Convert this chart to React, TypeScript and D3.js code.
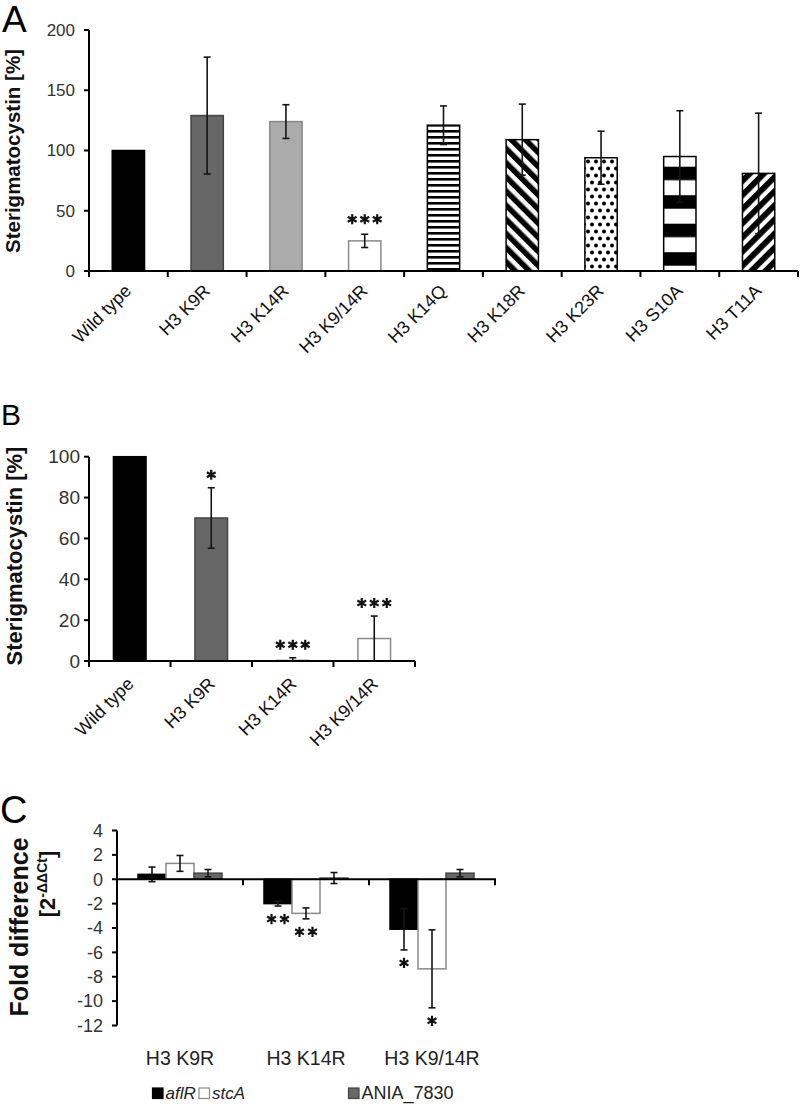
import React from "react";
import * as d3 from "d3";

// ---------- Data ----------
const catsA = ["Wild type", "H3 K9R", "H3 K14R", "H3 K9/14R", "H3 K14Q", "H3 K18R", "H3 K23R", "H3 S10A", "H3 T11A"];
const valsA = [100, 129, 124, 25, 121, 109, 94, 95, 81];
const errA = [0, 48.5, 14, 5.5, 16, 29.5, 22, 38, 50];
const sigA = ["", "", "", "***", "", "", "", "", ""];
const ticksA = [0, 50, 100, 150, 200];

const catsB = ["Wild type", "H3 K9R", "H3 K14R", "H3 K9/14R"];
const valsB = [100, 70, 0.3, 11];
const errB = [0, 14.8, 1.3, 11];
const sigB = ["", "*", "***", "***"];
const ticksB = [0, 20, 40, 60, 80, 100];

const catsC = ["H3 K9R", "H3 K14R", "H3 K9/14R"];
const genes = ["aflR", "stcA", "ANIA_7830"];
const aflR = [0.4, -2.0, -4.1];
const aflRErr = [0.6, 0.2, 1.7];
const aflRSig = ["", "**", "*"];
const stcA = [1.3, -2.8, -7.35];
const stcAErr = [0.65, 0.45, 3.2];
const stcASig = ["", "**", "*"];
const ania = [0.5, 0.1, 0.5];
const aniaErr = [0.3, 0.45, 0.3];
const aniaSig = ["", "", ""];
const ticksC = [4, 2, 0, -2, -4, -6, -8, -10, -12];

// ---------- Styles ----------
const FONT = "'Liberation Sans', Arial, Helvetica, sans-serif";
const fillA = ["#000", "#676767", "#ababab", "#fff", "url(#hstripe)", "url(#diagBack)", "url(#dots)", "url(#bands)", "url(#diagFwd)"];
const strokeA = ["#000", "#444", "#888", "#8a8a8a", "#000", "#000", "#000", "#000", "#000"];
const fillB = ["#000", "#676767", "#ababab", "#fff"];
const strokeB = ["#000", "#444", "#888", "#8a8a8a"];
const fillC = ["#000", "#fff", "#676767"];
const strokeC = ["#000", "#8a8a8a", "#444"];
const italicC = [true, true, false];
const legendX = [152.5, 199, 348.5];

const starPath = d3.symbol().type(d3.symbolAsterisk).size(72)() as string;

function Stars({ cx, cy, text, spacing = 12.5 }: { cx: number; cy: number; text: string; spacing?: number }) {
  const n = text.length;
  if (!n) return null;
  return (
    <g>
      {d3.range(n).map((i) => (
        <path
          key={i}
          d={starPath}
          transform={`translate(${cx + (i - (n - 1) / 2) * spacing},${cy})`}
          stroke="#111"
          strokeWidth={2.2}
          fill="none"
        />
      ))}
    </g>
  );
}

function ErrBar({ x, y1, y2, cap = 7 }: { x: number; y1: number; y2: number; cap?: number }) {
  return (
    <g stroke="#151515" strokeWidth={1.6}>
      <line x1={x} x2={x} y1={y1} y2={y2} />
      <line x1={x - cap / 2} x2={x + cap / 2} y1={y1} y2={y1} />
      <line x1={x - cap / 2} x2={x + cap / 2} y1={y2} y2={y2} />
    </g>
  );
}

export default function App() {
  // Panel A scales
  const xA = d3.scaleBand<string>().domain(catsA).range([89, 798]);
  const yA = d3.scaleLinear().domain([0, 200]).range([271, 30]);
  const bwA = xA.bandwidth() * 0.41;

  // Panel B scales
  const xB = d3.scaleBand<string>().domain(catsB).range([89, 415]);
  const yB = d3.scaleLinear().domain([0, 100]).range([661, 456.7]);
  const bwB = xB.bandwidth() * 0.4;

  // Panel C scales
  const xC = d3.scaleBand<string>().domain(catsC).range([117, 495]);
  const xG = d3.scaleBand<string>().domain(genes).range([0, xC.bandwidth()]).paddingInner(0).paddingOuter(0.75);
  const yC = d3.scaleLinear().domain([-12, 4]).range([1025.5, 830.5]);
  const valsC = [aflR, stcA, ania];
  const errsC = [aflRErr, stcAErr, aniaErr];
  const sigsC = [aflRSig, stcASig, aniaSig];

  const boundsA = [...catsA.map((c) => xA(c)!), xA.range()[1]];
  const boundsB = [...catsB.map((c) => xB(c)!), xB.range()[1]];
  const boundsC = [...catsC.map((c) => xC(c)!), xC.range()[1]];

  return (
    <svg width={800} height={1106} style={{ position: "absolute", left: 0, top: 0, background: "#fff" }} fontFamily={FONT}>
      <defs>
        <pattern id="hstripe" patternUnits="userSpaceOnUse" width={10} height={6} y={1}>
          <rect width={10} height={6} fill="#fff" />
          <rect y={3} width={10} height={2.6} fill="#000" />
        </pattern>
        <pattern id="diagBack" patternUnits="userSpaceOnUse" width={10} height={10} patternTransform="rotate(-45)">
          <rect width={10} height={10} fill="#fff" />
          <rect width={5.5} height={10} fill="#000" />
        </pattern>
        <pattern id="diagFwd" patternUnits="userSpaceOnUse" width={10} height={10} patternTransform="rotate(45)">
          <rect width={10} height={10} fill="#fff" />
          <rect width={5.8} height={10} fill="#000" />
        </pattern>
        <pattern id="dots" patternUnits="userSpaceOnUse" width={8} height={14} x={2} y={158}>
          <rect width={8} height={14} fill="#fff" />
          <circle cx={2} cy={3.5} r={2} fill="#000" />
          <circle cx={6} cy={10.5} r={2} fill="#000" />
        </pattern>
        <pattern id="bands" patternUnits="userSpaceOnUse" width={10} height={28.5} y={166.7}>
          <rect width={10} height={28.5} fill="#fff" />
          <rect width={10} height={13.5} fill="#000" />
        </pattern>
      </defs>

      {/* ================= Panel A ================= */}
      <text x={2} y={32} fontSize={37} fill="#000">A</text>
      <text transform={`translate(20,151) rotate(-90)`} textAnchor="middle" fontSize={20.5} fontWeight="bold" fill="#111">
        Sterigmatocystin [%]
      </text>
      {catsA.map((c, i) => {
        const cx = xA(c)! + xA.bandwidth() / 2;
        const top = yA(valsA[i]);
        return (
          <g key={c}>
            <rect x={cx - bwA / 2} y={top} width={bwA} height={yA(0) - top} fill={fillA[i]} stroke={strokeA[i]} strokeWidth={1.5} />
            {errA[i] > 0 && <ErrBar x={cx} y1={yA(valsA[i] + errA[i])} y2={yA(valsA[i] - errA[i])} />}
            <Stars cx={cx} cy={yA(valsA[i] + errA[i]) - 15} text={sigA[i]} />
            <text transform={`translate(${cx + 4},${yA(0) + 21}) rotate(-45)`} textAnchor="end" fontSize={18} fill="#111">
              {c}
            </text>
          </g>
        );
      })}
      <g stroke="#000" strokeWidth={2}>
        <line x1={89} x2={89} y1={yA(200)} y2={yA(0)} />
        <line x1={89} x2={798} y1={yA(0)} y2={yA(0)} />
        {ticksA.map((t) => (
          <line key={t} x1={84} x2={89} y1={yA(t)} y2={yA(t)} />
        ))}
        {boundsA.map((b, i) => (
          <line key={i} x1={b} x2={b} y1={yA(0)} y2={yA(0) + 6} />
        ))}
      </g>
      {ticksA.map((t) => (
        <text key={t} x={75} y={yA(t)} dy="0.35em" textAnchor="end" fontSize={17} fill="#333">
          {t}
        </text>
      ))}

      {/* ================= Panel B ================= */}
      <text x={1} y={425} fontSize={30} fill="#000">B</text>
      <text transform={`translate(22,556) rotate(-90)`} textAnchor="middle" fontSize={22} fontWeight="bold" fill="#111">
        Sterigmatocystin [%]
      </text>
      {catsB.map((c, i) => {
        const cx = xB(c)! + xB.bandwidth() / 2;
        const top = yB(valsB[i]);
        return (
          <g key={c}>
            <rect x={cx - bwB / 2} y={top} width={bwB} height={yB(0) - top} fill={fillB[i]} stroke={strokeB[i]} strokeWidth={1.5} />
            {errB[i] > 0 && <ErrBar x={cx} y1={yB(valsB[i] + errB[i])} y2={yB(Math.max(0, valsB[i] - errB[i]))} />}
            <Stars cx={cx} cy={yB(valsB[i] + errB[i]) - 13} text={sigB[i]} />
            <text transform={`translate(${cx + 5},${yB(0) + 24}) rotate(-45)`} textAnchor="end" fontSize={18} fill="#111">
              {c}
            </text>
          </g>
        );
      })}
      <g stroke="#000" strokeWidth={2}>
        <line x1={89} x2={89} y1={yB(100)} y2={yB(0)} />
        <line x1={89} x2={415} y1={yB(0)} y2={yB(0)} />
        {ticksB.map((t) => (
          <line key={t} x1={84} x2={89} y1={yB(t)} y2={yB(t)} />
        ))}
        {boundsB.map((b, i) => (
          <line key={i} x1={b} x2={b} y1={yB(0)} y2={yB(0) + 6} />
        ))}
      </g>
      {ticksB.map((t) => (
        <text key={t} x={80} y={yB(t)} dy="0.35em" textAnchor="end" fontSize={19} fill="#333">
          {t}
        </text>
      ))}

      {/* ================= Panel C ================= */}
      <text x={0} y={823} fontSize={38} fill="#000">C</text>
      <text transform={`translate(28,927) rotate(-90)`} textAnchor="middle" fontSize={25} fontWeight="bold" fill="#111">
        Fold difference
      </text>
      <text transform={`translate(55,884) rotate(-90)`} textAnchor="middle" fontSize={22} fontWeight="bold" fill="#111">
        [2<tspan fontSize={14} dy={-8}>-ΔΔCt</tspan><tspan dy={8}>]</tspan>
      </text>
      {catsC.map((c, ci) => (
        <g key={c}>
          {genes.map((g, gi) => {
            const v = valsC[gi][ci];
            const e = errsC[gi][ci];
            const x0 = xC(c)! + xG(g)!;
            const bw = xG.bandwidth();
            const cx = x0 + bw / 2;
            const y0 = yC(Math.max(0, v));
            const y1 = yC(Math.min(0, v));
            return (
              <g key={g}>
                <rect x={x0} y={y0} width={bw} height={Math.max(0.5, y1 - y0)} fill={fillC[gi]} stroke={strokeC[gi]} strokeWidth={1.5} />
                <ErrBar x={cx} y1={yC(v + e)} y2={yC(v - e)} />
                <Stars cx={cx} cy={yC(v - e) + 13} text={sigsC[gi][ci]} spacing={13} />
              </g>
            );
          })}
          <text x={xC(c)! + xC.bandwidth() / 2} y={1065} textAnchor="middle" fontSize={19.5} fill="#222">
            {c}
          </text>
        </g>
      ))}
      <g stroke="#000" strokeWidth={2}>
        <line x1={117} x2={117} y1={yC(4)} y2={yC(-12)} />
        <line x1={117} x2={496} y1={yC(0)} y2={yC(0)} />
        {ticksC.map((t) => (
          <line key={t} x1={112} x2={117} y1={yC(t)} y2={yC(t)} />
        ))}
        {boundsC.map((b, i) => (
          <line key={i} x1={b} x2={b} y1={yC(0)} y2={yC(0) + 6} />
        ))}
      </g>
      {ticksC.map((t) => (
        <text key={t} x={103} y={yC(t)} dy="0.35em" textAnchor="end" fontSize={18} fill="#333">
          {t}
        </text>
      ))}
      {/* Legend */}
      {genes.map((g, gi) => (
        <g key={g}>
          <rect x={legendX[gi]} y={1088} width={10.5} height={10.5} fill={fillC[gi]} stroke={strokeC[gi]} strokeWidth={1.2} />
          <text x={legendX[gi] + 13} y={1099} fontSize={italicC[gi] ? 17 : 18} fontStyle={italicC[gi] ? "italic" : "normal"} fill="#222">
            {g}
          </text>
        </g>
      ))}
    </svg>
  );
}
